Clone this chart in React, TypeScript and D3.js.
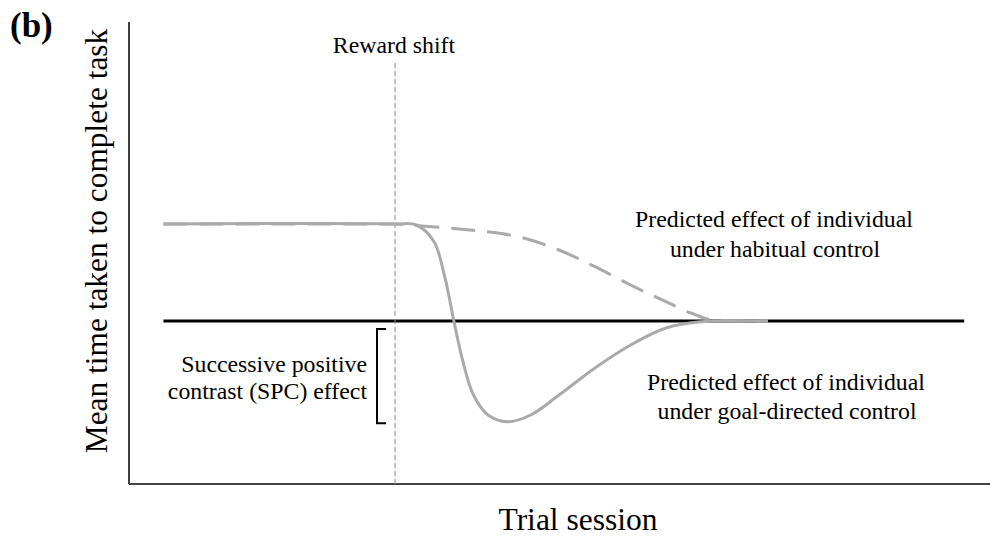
import React from "react";
import * as d3 from "d3";

// Conceptual chart data (x: trial session units 0..100, y: time units 0..100)
const shiftX = 30.9;
const baselineY = 35.3;
const lineStartX = 4;
const baselineEndX = 97;

const goalX = [4, 30.9, 33.38, 35.42, 36.7, 37.75, 38.79, 40.01, 41.7, 43.96, 46.66, 49.94, 54.12, 58.26, 62.37, 66.55, 68.6, 74.2];
const goalY = [56.3, 56.3, 56.06, 52.45, 44.59, 35.13, 26.47, 19.26, 14.94, 13.48, 14.94, 19.26, 25.11, 30.09, 33.77, 35.13, 35.3, 35.3];

const habitX = [4, 30.9, 33.33, 39.61, 45.82, 49.94, 54.12, 58.26, 62.37, 65.27, 67.83, 70.96, 74.2];
const habitY = [56.3, 56.3, 55.95, 54.98, 53.25, 50.65, 47.03, 43.07, 39.46, 37.01, 35.5, 35.3, 35.3];

const W = 990;
const H = 539;

export default function App() {
  const x = d3.scaleLinear().domain([0, 100]).range([129, 990]);
  const y = d3.scaleLinear().domain([0, 100]).range([484, 22]);
  const goalLine = d3
    .line<[number, number]>()
    .x((d) => x(d[0]))
    .y((d) => y(d[1]))
    .curve(d3.curveCatmullRom.alpha(0.5));
  const habitLine = d3
    .line<[number, number]>()
    .x((d) => x(d[0]))
    .y((d) => y(d[1]))
    .curve(d3.curveMonotoneX);
  const goal = goalX.map((v, i) => [v, goalY[i]] as [number, number]);
  const habit = habitX.map((v, i) => [v, habitY[i]] as [number, number]);
  const serif = "'Liberation Serif', 'Times New Roman', serif";
  const bx = 377;
  const fs = 23.8;
  return (
    <svg width={W} height={H} style={{ position: "absolute", left: 0, top: 0, background: "#fff" }} fontFamily={serif}>
      {/* axes */}
      <line x1={x(0)} x2={x(0)} y1={y(100)} y2={y(0)} stroke="#000" strokeWidth={1.5} />
      <line x1={x(0)} x2={x(100)} y1={y(0)} y2={y(0)} stroke="#444" strokeWidth={2} />
      {/* baseline */}
      <line x1={x(lineStartX)} x2={x(baselineEndX)} y1={y(baselineY)} y2={y(baselineY)} stroke="#000" strokeWidth={3} />
      {/* reward shift */}
      <line x1={x(shiftX)} x2={x(shiftX)} y1={63} y2={y(0)} stroke="#888" strokeWidth={1} strokeDasharray="5,3" />
      <text x={394} y={53} fontSize={fs} textAnchor="middle">Reward shift</text>
      {/* curves */}
      <path d={habitLine(habit) || ""} fill="none" stroke="#aaaaaa" strokeWidth={3} strokeDasharray="24,12" />
      <path d={goalLine(goal) || ""} fill="none" stroke="#aaaaaa" strokeWidth={3} />
      {/* bracket */}
      <path d={`M${bx + 9},${y(baselineY) + 8} H${bx} V${y(13.6) + 2} H${bx + 9}`} fill="none" stroke="#000" strokeWidth={2} />
      <text x={367} y={372} fontSize={fs} textAnchor="end">Successive positive</text>
      <text x={367} y={399} fontSize={fs} textAnchor="end">contrast (SPC) effect</text>
      {/* annotations */}
      <text x={774} y={227} fontSize={fs} textAnchor="middle">Predicted effect of individual</text>
      <text x={775} y={257} fontSize={fs} textAnchor="middle">under habitual control</text>
      <text x={786} y={390} fontSize={fs} textAnchor="middle">Predicted effect of individual</text>
      <text x={787} y={419} fontSize={fs} textAnchor="middle">under goal-directed control</text>
      {/* labels */}
      <text transform={`translate(107,241) rotate(-90)`} fontSize={31.4} textAnchor="middle">Mean time taken to complete task</text>
      <text x={578} y={530} fontSize={31.5} textAnchor="middle">Trial session</text>
      <text x={10} y={37} fontSize={35} fontWeight="bold">(b)</text>
    </svg>
  );
}
